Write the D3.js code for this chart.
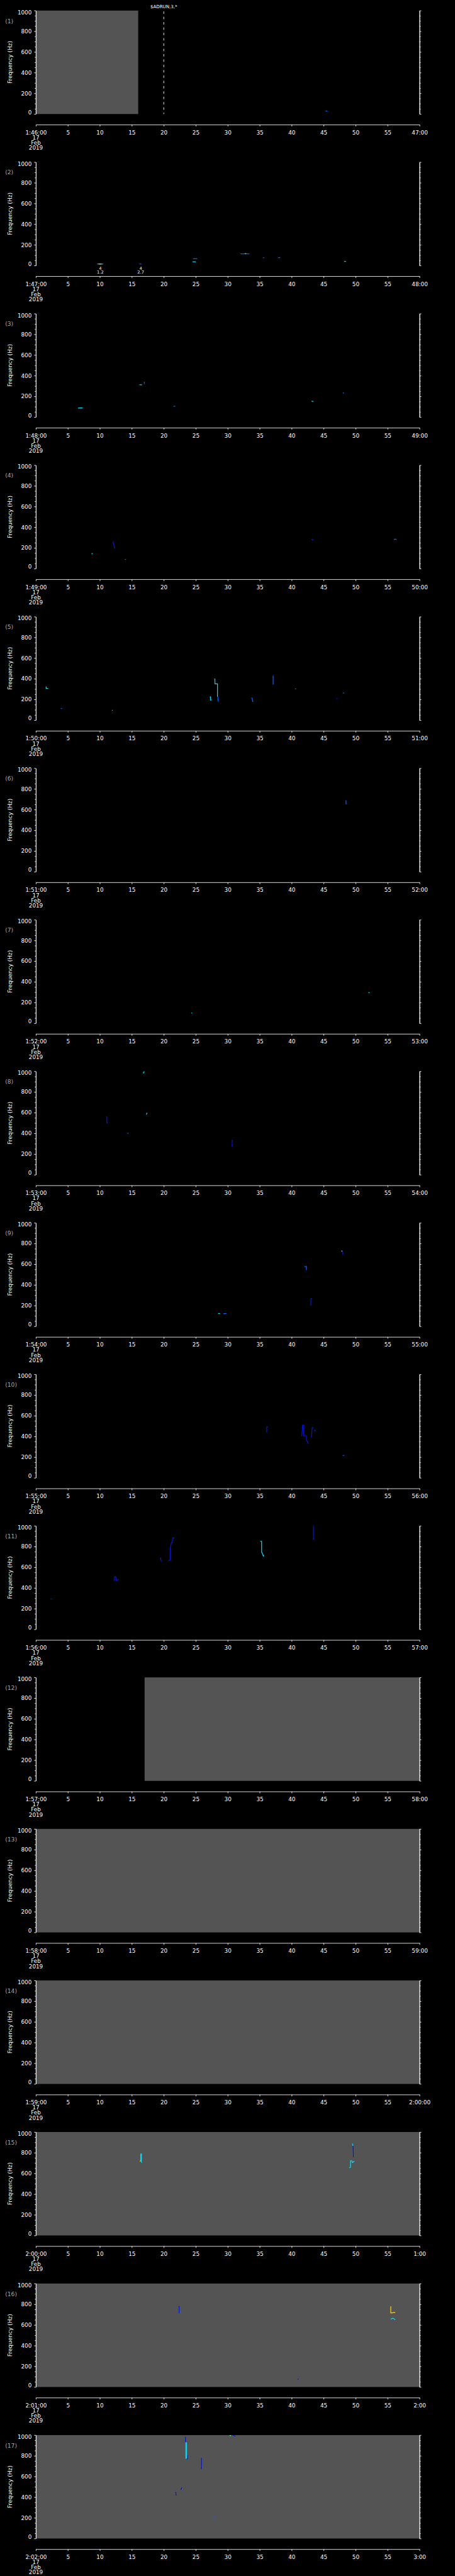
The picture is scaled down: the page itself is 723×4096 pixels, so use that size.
<!DOCTYPE html>
<html>
<head>
<meta charset="utf-8">
<script src="https://cdn.jsdelivr.net/npm/d3@7"></script>
<style>
  body { margin: 0; background: #000; }
  svg { display: block; }
  text { font-family: "DejaVu Sans", sans-serif; }
</style>
</head>
<body>
<div id="chart"></div>
<script>
// panel time labels (one panel per minute)
const panelStart = ["1:46:00","1:47:00","1:48:00","1:49:00","1:50:00","1:51:00","1:52:00","1:53:00","1:54:00",
  "1:55:00","1:56:00","1:57:00","1:58:00","1:59:00","2:00:00","2:01:00","2:02:00"];
const panelEnd = ["47:00","48:00","49:00","50:00","51:00","52:00","53:00","54:00","55:00",
  "56:00","57:00","58:00","59:00","2:00:00","1:00","2:00","3:00"];
const dateLines = ["17", "Feb", "2019"];
const secTicks = [0, 5, 10, 15, 20, 25, 30, 35, 40, 45, 50, 55, 60];
const freqTicks = [0, 200, 400, 600, 800, 1000];
const freqMinor = [50, 100, 150, 250, 300, 350, 450, 500, 550, 650, 700, 750, 850, 900, 950];

// no-data (grey) spans in seconds, per panel
const noData = [[[0, 16]], [], [], [], [], [], [], [], [], [], [], [[17, 60]], [[0, 60]], [[0, 60]], [[0, 60]], [[0, 60]], [[0, 60]]];

// marker lines with labels: [panel, second, label]
const markers = [[0, 20, "$ADRUN,3,*"]];
// detection labels: [panel, second, top, bottom]
const detections = [[1, 10.07, "4", "1.2"], [1, 16.4, "4", "2.7"]];

// spectrogram traces: lv = intensity level, p = [second, Hz]
const traces = [
  [{lv:2, p:[[45.3,29],[45.6,29]]}],
  [{lv:3, p:[[9.6,15],[10.5,15]]}, {lv:5, p:[[9.9,15],[10.2,15]]}, {lv:2, p:[[16.2,15],[16.5,15]]},
   {lv:2, p:[[24.6,66],[25.2,66]]}, {lv:3, p:[[24.5,37],[25.0,37]]}, {lv:2, p:[[32.0,113],[33.4,113]]},
   {lv:4, p:[[32.7,115],[32.9,115]]}, {lv:2, p:[[35.5,77],[35.7,75]]}, {lv:2, p:[[37.9,75],[38.2,78]]},
   {lv:3, p:[[48.2,40],[48.5,40]]}],
  [{lv:3, p:[[6.6,87],[7.3,90]]}, {lv:3, p:[[16.2,312],[16.6,312]]}, {lv:2, p:[[16.95,342],[16.95,318]]},
   {lv:2, p:[[21.5,105],[21.8,105]]}, {lv:3, p:[[43.1,153],[43.4,151]]}, {lv:2, p:[[48.0,234],[48.2,232]]}],
  [{lv:3, p:[[8.7,145],[8.9,145]]}, {lv:1, p:[[12.0,257],[12.1,257],[12.3,200],[12.4,197]]},
   {lv:2, p:[[13.9,89],[14.1,89]]}, {lv:1, p:[[43.1,283],[43.4,275]]}, {lv:2, p:[[56.0,281],[56.2,285],[56.4,281]]}],
  [{lv:3, p:[[1.6,326],[1.6,307],[1.9,307]]}, {lv:2, p:[[3.9,113],[4.1,113]]}, {lv:3, p:[[11.9,96],[12.0,94]]},
   {lv:3, p:[[27.2,225],[27.3,225],[27.3,194],[27.5,194]]}, {lv:3, p:[[27.9,396],[28.0,396],[28.0,351],[28.4,351],[28.4,225]]},
   {lv:2, p:[[28.45,225],[28.5,181]]}, {lv:2, p:[[33.7,213],[33.8,213],[33.9,181],[34.0,181]]},
   {lv:2, p:[[37.1,431],[37.1,347],[37.2,347]]}, {lv:2, p:[[40.5,302],[40.7,302]]}, {lv:1, p:[[47.0,210],[47.2,208]]},
   {lv:2, p:[[48.0,263],[48.2,263]]}],
  [{lv:2, p:[[48.5,690],[48.5,658],[48.6,658]]}],
  [{lv:3, p:[[24.3,100],[24.4,98]]}, {lv:3, p:[[52.0,296],[52.2,296]]}],
  [{lv:3, p:[[16.8,979],[16.85,995],[17.0,995]]}, {lv:1, p:[[11.0,559],[11.1,559],[11.1,502],[11.2,502]]},
   {lv:3, p:[[17.3,580],[17.35,596],[17.4,596]]}, {lv:2, p:[[14.3,400],[14.5,400]]},
   {lv:1, p:[[30.6,275],[30.7,275],[30.7,331],[30.8,331]]}],
  [{lv:4, p:[[47.8,732],[47.9,722]]}, {lv:1, p:[[47.9,722],[48.0,700],[48.1,693]]}, {lv:2, p:[[42.0,578],[42.3,578],[42.3,543]]},
   {lv:1, p:[[42.9,207],[43.0,207],[43.0,265],[43.2,271]]}, {lv:3, p:[[28.5,124],[28.8,124]]}, {lv:2, p:[[29.3,122],[29.8,124]]}],
  [{lv:1, p:[[36.0,443],[36.1,443],[36.1,491],[36.3,491]]},
   {lv:1, p:[[41.5,406],[41.6,406],[41.7,507],[41.9,507],[41.9,406],[42.3,406],[42.3,370],[42.6,330]]},
   {lv:1, p:[[43.0,394],[43.1,394],[43.2,483],[43.4,483]]}, {lv:2, p:[[43.6,457],[43.7,457]]}, {lv:2, p:[[48.0,216],[48.2,216]]}],
  [{lv:2, p:[[2.4,295],[2.5,293]]}, {lv:1, p:[[12.3,468],[12.3,507],[12.5,507],[12.6,470],[12.9,485]]},
   {lv:1, p:[[19.4,691],[19.5,691],[19.6,662],[19.7,662]]},
   {lv:1, p:[[20.7,664],[21.0,668],[21.0,780],[21.2,840],[21.3,840],[21.4,884],[21.7,884]]},
   {lv:3, p:[[35.1,850],[35.3,850],[35.3,745],[35.4,737],[35.5,718],[35.6,705],[35.6,720]]},
   {lv:1, p:[[43.4,998],[43.4,870],[43.6,866]]}],
  [], [], [],
  [{lv:3, p:[[16.3,720],[16.4,720],[16.4,788],[16.5,788],[16.5,707],[16.6,707]]}, {lv:5, p:[[16.25,718],[16.35,718]]},
   {lv:3, p:[[49.5,889],[49.6,866]]}, {lv:1, p:[[49.6,866],[49.65,759],[49.7,759]]},
   {lv:3, p:[[49.0,654],[49.2,660],[49.2,722],[49.4,722],[49.5,705],[49.8,718]]}],
  [{lv:1, p:[[22.3,779],[22.4,779],[22.4,714]]}, {lv:2, p:[[22.5,720],[22.7,722]]},
   {lv:5, p:[[55.5,779],[55.5,717],[55.8,717],[56.0,722],[56.2,717]]}, {lv:6, p:[[55.8,720],[56.0,722]]},
   {lv:3, p:[[55.5,655],[55.8,666],[56.0,660],[56.2,649]]}, {lv:1, p:[[40.9,76],[41.1,76]]}],
  [{lv:1, p:[[21.8,445],[21.9,445],[21.9,420],[22.0,420]]}, {lv:1, p:[[22.6,478],[22.8,478],[22.8,495],[22.8,478],[23.1,478]]},
   {lv:5, p:[[22.9,478],[23.0,478]]}, {lv:1, p:[[23.3,977],[23.4,977],[23.4,930]]},
   {lv:3, p:[[23.45,930],[23.45,771]]}, {lv:3, p:[[23.55,930],[23.55,771]]},
   {lv:1, p:[[23.6,771],[23.7,771],[23.7,800],[23.8,800]]}, {lv:1, p:[[25.8,677],[25.9,677],[25.9,774],[26.0,774]]},
   {lv:2, p:[[27.8,208],[28.0,208]]}, {lv:4, p:[[30.3,995],[30.5,995]]}, {lv:1, p:[[30.8,998],[31.2,990]]}]
];

const W = 1024, H = 5802;
const left = 80.7, right = 944.3, top0 = 23.8, step = 341.3, plotH = 233;
const fs = 12.5;

const svg = d3.select("#chart").append("svg")
  .attr("width", 723).attr("height", 4096)
  .attr("viewBox", `0 0 ${W} ${H}`);

svg.append("rect").attr("width", W).attr("height", H).attr("fill", "#000");

const x = d3.scaleLinear().domain([0, 60]).range([left, right]);
const level = d3.scaleOrdinal().domain([1, 2, 3, 4, 5, 6])
  .range(["#0818d8", "#0068ff", "#00e0ff", "#50ff90", "#ffd800", "#ff8c00"]);

function styleAxis(g) {
  g.attr("font-size", fs).attr("font-family", "DejaVu Sans, sans-serif");
  g.selectAll("path, line").attr("stroke", "#fff").attr("stroke-width", 1.2);
  g.selectAll("text").attr("fill", "#fff");
}

panelStart.forEach((start, i) => {
  const top = top0 + i * step, bottom = top + plotH;
  const y = d3.scaleLinear().domain([0, 1000]).range([bottom, top]);
  const g = svg.append("g");

  //grey no-data spans
  g.selectAll("rect.nodata")
    .data(noData[i])
    .enter()
    .append("rect")
    .attr("x", d => x(d[0]))
    .attr("width", d => x(d[1]) - x(d[0]))
    .attr("y", top)
    .attr("height", plotH)
    .attr("fill", "#545454");

  //spectrogram traces
  const line = d3.line().x(d => x(d[0])).y(d => y(d[1]));
  g.selectAll("path.trace")
    .data(traces[i])
    .enter()
    .append("path")
    .attr("d", d => line(d.p))
    .attr("fill", "none")
    .attr("stroke", d => level(d.lv))
    .attr("stroke-width", 1.7);

  //left axis
  const ly = g.append("g")
    .attr("transform", `translate(${left},0)`)
    .call(d3.axisLeft(y).tickValues(freqTicks).tickSize(4).tickSizeOuter(0).tickPadding(5.5).tickFormat(d3.format("d")));
  ly.call(styleAxis);
  ly.selectAll(".tick text").attr("dy", d => d === 0 ? "-0.0em" : d === 1000 ? "0.62em" : "0.32em");
  g.append("g")
    .attr("transform", `translate(${left},0)`)
    .call(d3.axisLeft(y).tickValues(freqMinor).tickSize(2.4).tickSizeOuter(0).tickFormat(""))
    .call(styleAxis);

  //right axis
  g.append("g")
    .attr("transform", `translate(${right},0)`)
    .call(d3.axisRight(y).tickValues(freqTicks).tickSize(4).tickSizeOuter(0).tickFormat(""))
    .call(styleAxis);
  g.append("g")
    .attr("transform", `translate(${right},0)`)
    .call(d3.axisRight(y).tickValues(freqMinor).tickSize(2.6).tickSizeOuter(0).tickFormat(""))
    .call(styleAxis);

  //time axis
  const axisY = bottom + 24;
  g.append("g")
    .attr("transform", `translate(0,${axisY})`)
    .call(d3.axisBottom(x).tickValues(secTicks).tickSize(4).tickSizeOuter(0).tickPadding(9)
      .tickFormat(d => d === 0 ? start : d === 60 ? panelEnd[i] : d))
    .call(styleAxis);

  //date under first label
  dateLines.forEach((t, k) => {
    g.append("text")
      .attr("x", left)
      .attr("y", axisY + 33.5 + k * 11.6)
      .attr("text-anchor", "middle")
      .attr("font-size", fs)
      .attr("fill", "#fff")
      .text(t);
  });

  //y title
  g.append("text")
    .attr("transform", `translate(27.5,${(top + bottom) / 2}) rotate(-90)`)
    .attr("text-anchor", "middle")
    .attr("font-size", 12.8)
    .attr("fill", "#fff")
    .text("Frequency (Hz)");

  //panel number
  g.append("text")
    .attr("x", 11.5)
    .attr("y", top + 28)
    .attr("font-size", 13)
    .attr("fill", "#a8a8a8")
    .text(`(${i + 1})`);
});

//marker lines
markers.forEach(([p, s, label]) => {
  const top = top0 + p * step, bottom = top + plotH;
  svg.append("line")
    .attr("x1", x(s)).attr("x2", x(s))
    .attr("y1", top + 2).attr("y2", bottom)
    .attr("stroke", "#fff")
    .attr("stroke-width", 1.3)
    .attr("stroke-dasharray", "5.5,6.5");
  svg.append("text")
    .attr("x", x(s))
    .attr("y", top - 5)
    .attr("text-anchor", "middle")
    .attr("font-size", 10)
    .attr("fill", "#fff")
    .text(label);
});

//detection labels
detections.forEach(([p, s, a, b]) => {
  const bottom = top0 + p * step + plotH;
  svg.append("text").attr("x", x(s)).attr("y", bottom + 9.8)
    .attr("text-anchor", "middle").attr("font-size", 9.5).attr("fill", "#fff").text(a);
  svg.append("text").attr("x", x(s)).attr("y", bottom + 18.8)
    .attr("text-anchor", "middle").attr("font-size", 9.5).attr("fill", "#fff").text(b);
});
</script>
</body>
</html>
